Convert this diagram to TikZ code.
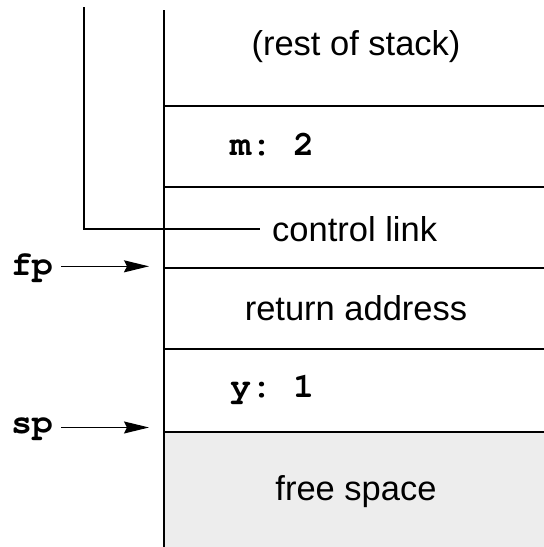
\documentclass[tikz,border=0pt]{standalone}
\usepackage[T1]{fontenc}
\usepackage{fontspec}
\setmainfont{Liberation Sans}
\usetikzlibrary{arrows.meta}
\newcommand{\courierbold}{\fontencoding{T1}\fontfamily{pcr}\fontseries{b}\selectfont\frenchspacing}
\begin{document}
\begin{tikzpicture}[x=1pt,y=-1pt,
  lbl/.style={inner sep=0pt, font=\fontsize{34.5}{40}\selectfont},
  code/.style={inner sep=0pt, font=\fontsize{35}{40}\selectfont\courierbold},
  rule/.style={line width=1.4pt},
  vrule/.style={line width=1.7pt},
  heavy/.style={line width=2.7pt},
  ptr/.style={line width=1.4pt, -{Stealth[length=25pt,width=12pt,inset=3pt]}}]
\useasboundingbox (0,0) rectangle (544,547);
% free space
\fill[black!7] (164,432) rectangle (544,547);
% stack cell borders
\draw[heavy] (164,106) -- (544,106);
\draw[rule] (164,187) -- (544,187);
\draw[rule] (164,268) -- (544,268);
\draw[rule] (164,349) -- (544,349);
\draw[heavy] (164,432) -- (544,432);
\draw[vrule] (164,10) -- (164,547);
% texts
\node[lbl, anchor=base] (rest) at (356,55) {(rest of stack)};
\node[code, anchor=base west] (m) at (230,155) {m: 2};
\node[lbl, anchor=base west, inner xsep=12pt] (cl) at (260,241) {control link};
\node[lbl, anchor=base] (ra) at (356,320) {return address};
\node[code, anchor=base west] (y) at (230,397) {y: 1};
\node[lbl, anchor=base] (fs) at (356,500) {free space};
\node[code, anchor=base west, outer xsep=8pt] (fp) at (3,275) {fp};
\node[code, anchor=base west, outer xsep=8pt] (sp) at (3,433) {sp};
% control link
\coordinate (cltop) at (84,7);
\draw[vrule] (cltop) |- (cl.west);
% pointers
\coordinate (fptip) at (149,268);
\coordinate (sptip) at (149,429);
\draw[ptr] (fp.east) -- (fp.east -| fptip);
\draw[ptr] (sp.east) -- (sp.east -| sptip);
\end{tikzpicture}
\end{document}
